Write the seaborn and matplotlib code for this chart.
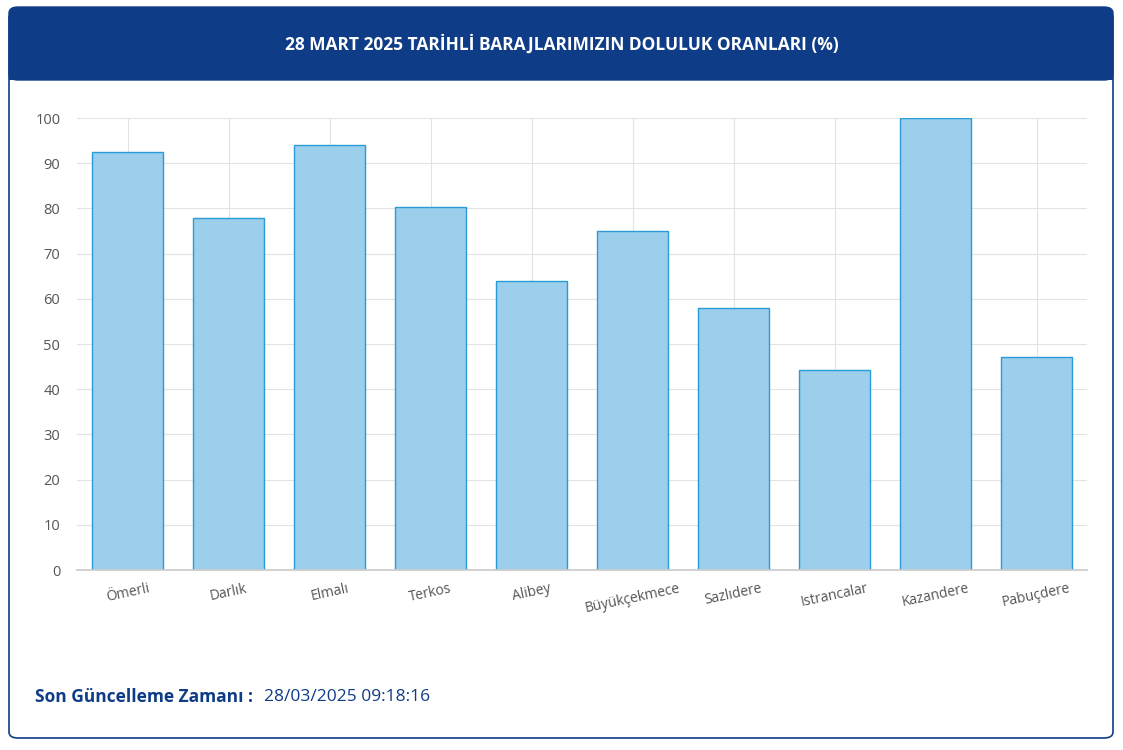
import matplotlib
matplotlib.use("Agg")
import matplotlib.pyplot as plt
import seaborn as sns
import pandas as pd
from matplotlib.patches import FancyBboxPatch

dams = ["Ömerli", "Darlık", "Elmalı", "Terkos", "Alibey", "Büyükçekmece",
        "Sazlıdere", "Istrancalar", "Kazandere", "Pabuçdere"]
fill = [92.5, 77.9, 94.0, 80.3, 63.9, 75.0, 58.0, 44.2, 100.0, 47.1]
yticks = list(range(0, 101, 10))
title = "28 MART 2025 TARİHLİ BARAJLARIMIZIN DOLULUK ORANLARI (%)"

sns.set_theme(style="white")
plt.rcParams['font.family'] = ['Open Sans', 'DejaVu Sans']

fig = plt.figure(figsize=(11.23, 7.5), dpi=100)
W, H = 1123, 750
card = FancyBboxPatch((9/W, 12/H), 1104/W, 726/H, boxstyle="round,pad=0,rounding_size=0.008",
                      transform=fig.transFigure, facecolor="white", edgecolor="#0f3c86", lw=1.2,
                      zorder=-5)
fig.patches.append(card)
hdr = FancyBboxPatch((9/W, (750-80)/H), 1104/W, 73/H, boxstyle="round,pad=0,rounding_size=0.008",
                     transform=fig.transFigure, facecolor="#0f3c86", edgecolor="#0f3c86", zorder=-4)
fig.patches.append(hdr)
fig.patches.append(plt.Rectangle((9/W, (750-80)/H), 1104/W, 20/H, transform=fig.transFigure,
                                 facecolor="#0f3c86", edgecolor="none", zorder=-4))
fig.text(0.5, (750-44)/H, title, color="white", fontsize=12.5, fontweight="bold",
         ha="center", va="center")

ax = fig.add_axes([77/W, (750-570)/H, 1010/W, 452/H])
ax.set_zorder(5)
df = pd.DataFrame({"dam": dams, "fill": fill})
sns.barplot(data=df, x="dam", y="fill", ax=ax, color="#9bcfec", saturation=1,
            edgecolor="#2a9bd6", linewidth=1, width=0.71)
ax.set_ylim(0, 100)
ax.set_yticks(yticks)
ax.set_xlabel("")
ax.set_ylabel("")
ax.grid(True, color="#e3e3e3", lw=0.8)
ax.set_axisbelow(True)
for s in ["top", "right", "left"]:
    ax.spines[s].set_visible(False)
ax.spines["bottom"].set_color("#cccccc")
ax.tick_params(axis="y", length=0, labelsize=10.5, labelcolor="#555555", pad=12)
ax.tick_params(axis="x", length=0, labelsize=10, labelcolor="#555555", pad=8)
plt.setp(ax.get_xticklabels(), rotation=12, ha="center")

fig.text(35/W, (750-697)/H, "Son Güncelleme Zamanı :", color="#0f3c86", fontsize=12.5,
         fontweight="bold", va="center")
fig.text(264/W, (750-697)/H, "28/03/2025 09:18:16", color="#0f3c86", fontsize=12.5, va="center")

fig.savefig("out.png", dpi=100)
